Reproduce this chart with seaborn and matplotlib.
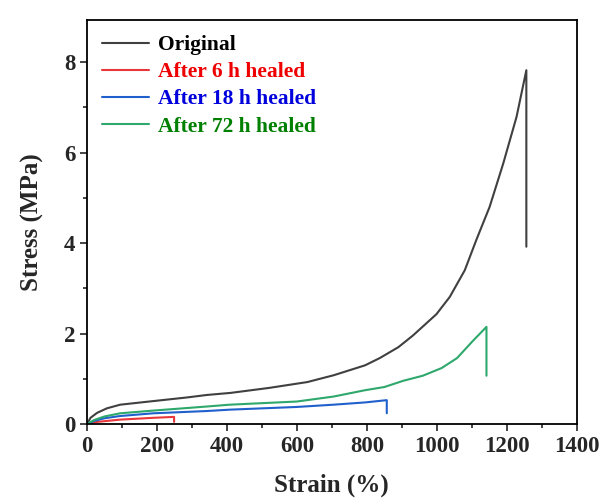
import numpy as np
import pandas as pd
import matplotlib
matplotlib.use('Agg')
import matplotlib.pyplot as plt
import seaborn as sns
from matplotlib.ticker import MultipleLocator

# stress-strain curves
original_strain = [0, 10, 29, 57, 95, 190, 286, 343, 410, 520, 630, 705, 795, 837, 890, 932, 999, 1037, 1080, 1113, 1151, 1190, 1228, 1256, 1256]
original_stress = [0, 0.14, 0.25, 0.35, 0.43, 0.51, 0.59, 0.645, 0.69, 0.80, 0.93, 1.08, 1.30, 1.46, 1.70, 1.96, 2.43, 2.81, 3.40, 4.07, 4.80, 5.76, 6.79, 7.82, 3.92]

h6_strain = [0, 29, 95, 190, 249, 249]
h6_stress = [0, 0.05, 0.10, 0.14, 0.16, 0.05]

h18_strain = [0, 20, 50, 95, 190, 343, 408, 600, 705, 795, 857, 857]
h18_stress = [0, 0.07, 0.13, 0.18, 0.24, 0.29, 0.32, 0.38, 0.43, 0.48, 0.53, 0.24]

h72_strain = [0, 20, 50, 95, 190, 343, 408, 600, 705, 795, 850, 905, 960, 1014, 1058, 1102, 1142, 1142]
h72_stress = [0, 0.09, 0.17, 0.24, 0.30, 0.39, 0.43, 0.50, 0.61, 0.75, 0.82, 0.96, 1.07, 1.24, 1.46, 1.83, 2.15, 1.07]

labels = ['Original', 'After 6 h healed', 'After 18 h healed', 'After 72 h healed']
line_colors = ['#404040', '#e8373a', '#2060cc', '#2ea86c']
text_colors = ['#000000', '#ee0000', '#0000dd', '#008000']

frames = []
for lab, xs, ys in zip(labels,
                       [original_strain, h6_strain, h18_strain, h72_strain],
                       [original_stress, h6_stress, h18_stress, h72_stress]):
    frames.append(pd.DataFrame({'Strain': xs, 'Stress': ys, 'Sample': lab}))
df = pd.concat(frames, ignore_index=True)

sns.set_style('ticks')
plt.rcParams['font.family'] = ['Liberation Serif', 'DejaVu Serif']
plt.rcParams['font.weight'] = 'bold'

fig = plt.figure(figsize=(6.02, 4.99), dpi=100)
ax = fig.add_axes([0.1445, 0.150, 0.8135, 0.810])

sns.lineplot(data=df, x='Strain', y='Stress', hue='Sample', units='Sample',
             estimator=None, sort=False, palette=dict(zip(labels, line_colors)),
             linewidth=1.5, ax=ax)

ax.set_xlim(0, 1400)
ax.set_ylim(0, 8.93)
ax.xaxis.set_major_locator(MultipleLocator(200))
ax.xaxis.set_minor_locator(MultipleLocator(100))
ax.yaxis.set_major_locator(MultipleLocator(2))
ax.yaxis.set_minor_locator(MultipleLocator(1))
ax.tick_params(which='major', direction='out', length=5, width=1.2, labelsize=16.5)
ax.tick_params(which='minor', direction='out', length=3, width=1.2)
for lbl in ax.get_xticklabels() + ax.get_yticklabels():
    lbl.set_fontweight('bold')
for s in ax.spines.values():
    s.set_linewidth(1.3)
    s.set_color('black')

ax.set_xlabel('Strain (%)', fontsize=18, fontweight='bold', labelpad=12)
ax.set_ylabel('Stress (MPa)', fontsize=18, fontweight='bold', labelpad=14)

leg = ax.legend(loc='upper left', frameon=False, fontsize=15.5, handlelength=2.2,
                handletextpad=0.4, labelspacing=0.33, borderaxespad=0.3)
for txt, c in zip(leg.get_texts(), text_colors):
    txt.set_color(c)
    txt.set_fontweight('bold')

fig.savefig('out.png', dpi=100)
